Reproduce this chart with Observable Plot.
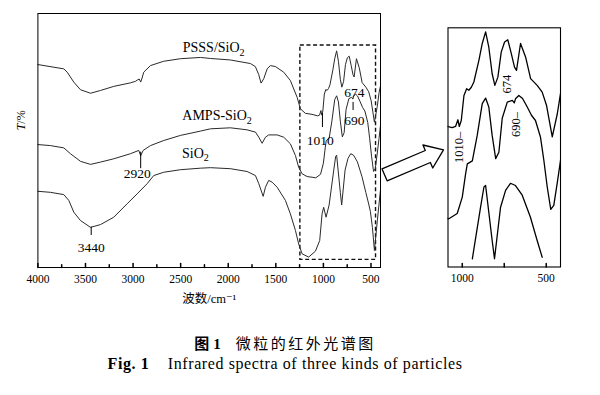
<!DOCTYPE html>
<html><head><meta charset="utf-8">
<script src="https://cdn.jsdelivr.net/npm/d3@7"></script>
<script src="https://cdn.jsdelivr.net/npm/@observablehq/plot@0.6"></script>
<style>
body{margin:0;background:#fff;}
#fig{position:relative;width:600px;height:395px;overflow:hidden;font-family:"Liberation Serif","DejaVu Serif","Noto Sans CJK SC",serif;color:#000;background:#fff}
#main{position:absolute;left:0;top:0}
#inset{position:absolute;left:420px;top:0}
#arrow{position:absolute;left:383px;top:160px;transform-origin:0px 15px;transform:rotate(-23deg)}
.cap{position:absolute;left:0;width:570px;text-align:center;white-space:nowrap;line-height:20px}
#cap1{top:333px;font-size:15px}
#cap2{top:354px;font-size:16px;letter-spacing:0.6px}
.cjk{font-family:"Noto Sans CJK SC",sans-serif;letter-spacing:2.5px}
</style></head>
<body><div id="fig"><div id="main"></div><div id="inset"></div><div id="arrow"></div>
<div class="cap" id="cap1"><b><span class="cjk" style="letter-spacing:0">图</span> 1</b>&nbsp;&nbsp;&nbsp;&nbsp;<span class="cjk">微粒的红外光谱图</span></div>
<div class="cap" id="cap2"><b>Fig. 1</b>&nbsp;&nbsp;&nbsp;&nbsp;Infrared spectra of three kinds of particles</div>
</div>
<script>
// ---------- data: [wavenumber (cm-1), T (%)] ----------
const psss = [[4000,79.9],[3728,78.2],[3692,76.9],[3623,73.0],[3553,70.0],[3447,68.6],[3342,69.7],[3203,71.3],[3027,72.7],[2975,73.3],[2951,73.9],[2935,74.2],[2920,73.0],[2905,74.6],[2888,76.9],[2817,79.5],[2678,81.2],[2502,82.2],[2292,82.7],[2187,82.3],[1977,81.7],[1767,80.3],[1715,79.1],[1680,76.0],[1655,72.6],[1627,74.3],[1591,78.2],[1557,79.5],[1504,79.1],[1417,76.9],[1347,73.6],[1276,67.0],[1242,62.5],[1190,60.7],[1120,60.3],[1060,59.7],[1040,60.0],[1026,61.8],[1018,60.0],[1006,61.6],[990,68.3],[974,70.1],[961,69.7],[946,70.5],[931,71.9],[901,77.7],[881,82.2],[861,85.3],[842,81.2],[822,74.1],[806,71.0],[788,73.2],[768,79.9],[748,82.6],[729,83.2],[708,79.5],[689,75.9],[677,75.0],[653,82.2],[623,78.6],[593,72.8],[554,71.0],[524,69.2],[498,65.6],[464,57.2],[434,63.4],[415,68.8],[400,71.5]];
const amps = [[4000,48.4],[3868,48.0],[3728,47.1],[3658,44.8],[3553,41.8],[3447,40.6],[3342,41.5],[3203,42.8],[3027,44.8],[2940,46.1],[2920,44.0],[2894,46.1],[2817,48.0],[2678,50.0],[2502,52.0],[2292,53.7],[2187,54.6],[1977,55.0],[1802,54.2],[1714,53.3],[1679,51.3],[1644,48.9],[1609,51.3],[1575,52.2],[1486,52.2],[1417,51.3],[1347,48.7],[1294,44.1],[1260,39.5],[1224,36.9],[1171,35.8],[1110,35.5],[1080,35.3],[1030,36.7],[1000,41.1],[980,47.4],[970,50.0],[940,50.8],[911,57.6],[881,66.1],[861,67.6],[842,65.2],[822,57.6],[801,51.4],[782,53.1],[762,62.2],[732,66.5],[702,67.0],[690,66.3],[683,67.4],[663,68.3],[641,67.5],[613,65.2],[588,63.0],[564,61.6],[534,57.1],[514,50.9],[494,43.8],[473,37.8],[455,38.9],[435,44.7],[415,50.9],[400,56.0]];
const sio2 = [[4000,30.0],[3868,29.6],[3728,28.7],[3675,26.4],[3623,21.8],[3553,18.5],[3447,15.8],[3342,16.9],[3203,19.8],[3062,25.1],[2957,29.0],[2852,33.0],[2783,36.2],[2678,37.5],[2502,38.5],[2292,39.1],[2187,39.3],[1977,38.9],[1802,37.8],[1714,36.2],[1679,33.0],[1633,28.0],[1609,31.6],[1575,34.3],[1539,33.6],[1486,31.6],[1399,26.4],[1347,21.1],[1294,14.6],[1260,9.3],[1224,5.4],[1155,4.1],[1084,6.4],[1039,10.6],[1014,21.1],[997,23.7],[972,19.8],[940,24.6],[891,38.4],[871,43.8],[861,44.2],[822,29.5],[808,24.6],[772,38.4],[742,42.9],[713,44.8],[683,44.2],[643,41.6],[594,35.7],[554,29.5],[524,25.0],[506,22.0],[485,15.8],[464,6.7],[433,18.5],[401,30.3]];

const seriesNames = ["PSSS/SiO2", "AMPS-SiO2", "SiO2"];
const seriesData = [psss, amps, sio2];
// label anchor [wavenumber, T]
const seriesLabelPos = [[2153, 86.6], [2117, 59.8], [2345, 45.0]];

// peak annotations: label, label position, leader line (x, y1, y2)
const peakNotes = [
  {label: "3440", lx: 3440, ly: 8.0, x: 3440, y1: 15.9, y2: 12.6},
  {label: "2920", lx: 2957, ly: 36.9, x: 2920, y1: 45.4, y2: 38.9},
  {label: "1010", lx: 1032, ly: 50.0, x: 1010, y1: 60.6, y2: 55.1},
  {label: "674", lx: 674, ly: 69.0, x: 688, y1: 65.0, y2: 61.8},
  {label: "690", lx: 674, ly: 57.9, x: null}
];
const zoomBox = [{x1: 1242, x2: 447, y1: 3.0, y2: 87.4}];

const xMajor = [4000, 3500, 3000, 2500, 2000, 1500, 1000, 500];
const xMinor = [3750, 3250, 2750, 2250, 1750, 1250, 750];
const xDomain = [4000, 400];
const yDomain = [0, 100];
const xTitle = "波数/cm⁻¹";
const yTitle = "T/%";

// inset (enlarged 1085–415 cm-1 region)
const insetXDomain = [1085, 415];
const insetYDomain = [22.4, 86.4];
const insetTicks = [1000, 750, 500];
const insetTickLabels = [1000, 500];
const insetSiO2Range = [524, 940];
const insetNotes = [
  {label: "674", x: 736, y: 71.3},
  {label: "690–", x: 683, y: 60.5},
  {label: "1010–", x: 1022, y: 54.4}
];
// hollow block arrow outline in its own local units
const arrowShape = [[0,-6.5],[47,-6.5],[47,-12.5],[64,0],[47,12.5],[47,6.5],[0,6.5],[0,-6.5]];

// ---------- helpers ----------
const serif = "Liberation Serif, DejaVu Serif, Noto Sans CJK SC, serif";
const tickShape = {draw(ctx, l) { ctx.moveTo(0, 0); ctx.lineTo(0, -l); }};
const rows = seriesData.flatMap((s, i) => s.map(([x, y]) => ({series: seriesNames[i], x, y})));
const labelRows = seriesNames.map((n, i) => ({text: n, x: seriesLabelPos[i][0], y: seriesLabelPos[i][1]}));

function richText(svg) {
  svg.querySelectorAll("text, tspan").forEach(t => {
    if (t.children.length) return;
    const s = t.textContent;
    if (s.includes("SiO2")) t.innerHTML = s.replace("SiO2", 'SiO<tspan dy="3.5" font-size="72%">2</tspan>');
    else if (s === "T/%") t.innerHTML = '<tspan font-style="italic">T</tspan>/%';
  });
}

// ---------- main plot ----------
const main = Plot.plot({
  width: 390, height: 310,
  marginLeft: 37.4, marginRight: 10, marginTop: 13, marginBottom: 43,
  style: {fontFamily: serif, fontSize: "11.5px", color: "#000", background: "transparent", overflow: "visible"},
  x: {domain: xDomain},
  y: {domain: yDomain, axis: null},
  marks: [
    Plot.rect(zoomBox, {x1: "x1", x2: "x2", y1: "y1", y2: "y2", fill: "none", stroke: "#111", strokeWidth: 1.4, strokeDasharray: "4,2.6"}),
    Plot.line(rows, {x: "x", y: "y", z: "series", stroke: "#2a2a2a", strokeWidth: 1, curve: "linear"}),
    Plot.frame({stroke: "#000", strokeWidth: 1}),
    Plot.axisX(xMajor, {anchor: "bottom", tickSize: 0, tickPadding: 7, tickFormat: d => String(d),
      label: xTitle, labelAnchor: "center", labelArrow: "none", labelOffset: 35, fontSize: 11.5}),
    Plot.vectorX(xMajor, {x: d => d, frameAnchor: "bottom", length: 4, anchor: "start", shape: tickShape, stroke: "#000"}),
    Plot.vectorX(xMinor, {x: d => d, frameAnchor: "bottom", length: 2.7, anchor: "start", shape: tickShape, stroke: "#000"}),
    Plot.text([yTitle], {text: d => d, frameAnchor: "left", y: () => 54, dx: -17, rotate: -90, fontSize: 12}),
    Plot.text(labelRows, {x: "x", y: "y", text: "text", fontSize: 14}),
    Plot.ruleX(peakNotes.filter(d => d.x != null), {x: "x", y1: "y1", y2: "y2", stroke: "#000", strokeWidth: 1}),
    Plot.text(peakNotes, {x: "lx", y: "ly", text: "label", fontSize: 13.5})
  ]
});
richText(main);
main.querySelectorAll("text").forEach(t => { if (t.textContent === xTitle) t.setAttribute("font-size", "12.5"); });
document.getElementById("main").append(main);

// ---------- inset ----------
const insetRows = rows.filter(d => d.series !== "SiO2" || (d.x >= insetSiO2Range[0] && d.x <= insetSiO2Range[1]));
const inset = Plot.plot({
  width: 160, height: 300,
  marginLeft: 27.5, marginRight: 20, marginTop: 27.3, marginBottom: 33.5,
  style: {fontFamily: serif, fontSize: "11.5px", color: "#000", background: "transparent", overflow: "visible"},
  x: {domain: insetXDomain},
  y: {domain: insetYDomain, axis: null},
  marks: [
    Plot.line(insetRows, {x: "x", y: "y", z: "series", stroke: "#000", strokeWidth: 1.3, clip: true}),
    Plot.frame({stroke: "#000", strokeWidth: 1.1}),
    Plot.axisX(insetTickLabels, {anchor: "bottom", tickSize: 0, tickPadding: 7, tickFormat: d => String(d), label: null}),
    Plot.vectorX(insetTicks, {x: d => d, frameAnchor: "bottom", length: 3.5, anchor: "start", shape: tickShape, stroke: "#000"}),
    Plot.text(insetNotes, {x: "x", y: "y", text: "label", rotate: -90, fontSize: 12.5})
  ]
});
document.getElementById("inset").append(inset);

// ---------- arrow ----------
const arrow = Plot.plot({
  width: 70, height: 30, margin: 0,
  x: {domain: [-1, 69], axis: null},
  y: {domain: [-15, 15], axis: null},
  style: {background: "transparent", overflow: "visible"},
  marks: [
    Plot.line(arrowShape, {x: d => d[0], y: d => d[1], stroke: "#000", strokeWidth: 1.3, fill: "#fff", curve: "linear-closed"})
  ]
});
document.getElementById("arrow").append(arrow);
</script>
</body></html>
